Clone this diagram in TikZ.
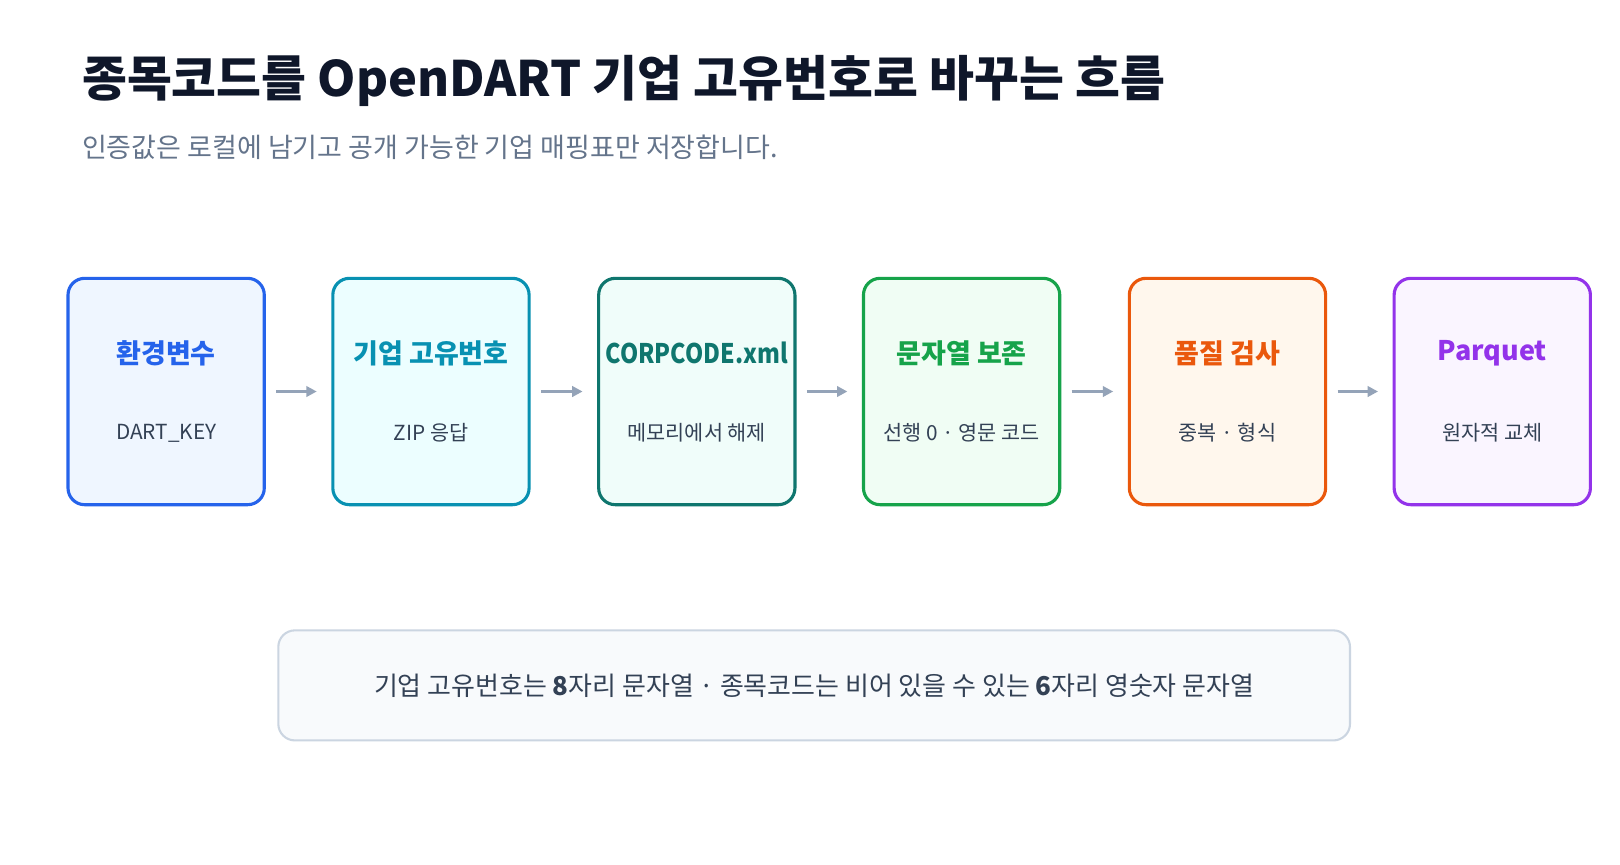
\documentclass[tikz,border=0pt]{standalone}
\usepackage{fontspec}
\setmainfont{Noto Sans CJK KR}
\usetikzlibrary{arrows.meta}
\definecolor{c1}{HTML}{2563EB}\definecolor{f1}{HTML}{EFF6FF}
\definecolor{c2}{HTML}{0891B2}\definecolor{f2}{HTML}{ECFEFF}
\definecolor{c3}{HTML}{0F766E}\definecolor{f3}{HTML}{F0FDFA}
\definecolor{c4}{HTML}{16A34A}\definecolor{f4}{HTML}{F0FDF4}
\definecolor{c5}{HTML}{EA580C}\definecolor{f5}{HTML}{FFF7ED}
\definecolor{c6}{HTML}{9333EA}\definecolor{f6}{HTML}{FAF5FF}
\definecolor{ttl}{HTML}{0F172A}\definecolor{sub}{HTML}{64748B}
\definecolor{txt}{HTML}{334155}\definecolor{arr}{HTML}{94A3B8}
\definecolor{nf}{HTML}{F8FAFC}\definecolor{nb}{HTML}{CBD5E1}
\begin{document}
\begin{tikzpicture}[x=0.5pt,y=-0.5pt,
 box/.style={draw=#1,line width=1.5pt,rounded corners=8pt,minimum width=94.5pt,minimum height=109pt},
 hd/.style={text=#1,font=\fontsize{13pt}{15pt}\selectfont\bfseries},
 sb/.style={text=txt,font=\fontsize{10pt}{12pt}\selectfont},
 ar/.style={-{Triangle[length=5pt,width=5pt]},draw=arr,line width=1.5pt}]
\useasboundingbox[fill=white] (0,0) rectangle (1560,832);
\node[anchor=west,text=ttl,font=\fontsize{23.5pt}{27pt}\selectfont\bfseries] (title) at (72,78) {종목코드를 OpenDART 기업 고유번호로 바꾸는 흐름};
\node[anchor=west,text=sub,font=\fontsize{13pt}{15pt}\selectfont] (subt) at (72,142) {인증값은 로컬에 남기고 공개 가능한 기업 매핑표만 저장합니다.};
\foreach \i/\x/\h/\s in {1/160/환경변수/DART\_KEY,2/415/기업 고유번호/ZIP 응답,3/671/\scalebox{0.86}[1]{CORPCODE.xml}/메모리에서 해제,4/926/문자열 보존/선행 0 · 영문 코드,5/1182/품질 검사/중복 · 형식,6/1437/Parquet/원자적 교체}{
 \node[box=c\i,fill=f\i] (b\i) at (\x,377) {};
 \node[hd=c\i] (h\i) at (\x,340) {\h};
 \node[sb] (s\i) at (\x,417) {\s};
}
\foreach \a/\b in {1/2,2/3,3/4,4/5,5/6}{\draw[ar] ([xshift=5pt]b\a.east) -- ([xshift=-7pt]b\b.west);}
\node[draw=nb,fill=nf,line width=1pt,rounded corners=8pt,minimum width=516pt,minimum height=53pt,text=txt,font=\fontsize{12.5pt}{14pt}\selectfont] (note) at (784,660) {기업 고유번호는 \textbf{8}자리 문자열 · 종목코드는 비어 있을 수 있는 \textbf{6}자리 영숫자 문자열};
\end{tikzpicture}
\end{document}
